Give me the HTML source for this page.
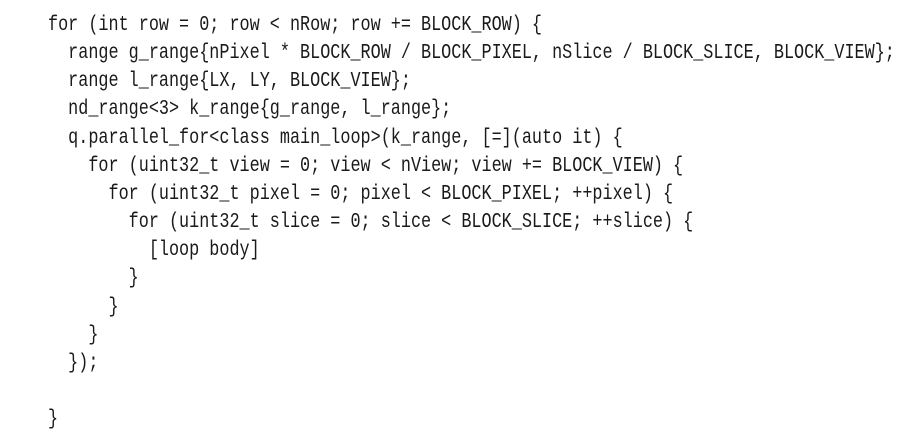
<!DOCTYPE html>
<html><head><meta charset="utf-8"><style>
html,body{margin:0;padding:0;background:#fff;width:922px;height:440px;overflow:hidden}
pre{position:absolute;left:48px;top:12px;margin:0;font-family:"Liberation Mono",monospace;font-size:21px;line-height:28.15px;color:#1a1a1a;transform:scaleX(0.80);transform-origin:0 0;white-space:pre}
</style></head><body>
<pre>for (int row = 0; row &lt; nRow; row += BLOCK_ROW) {
  range g_range{nPixel * BLOCK_ROW / BLOCK_PIXEL, nSlice / BLOCK_SLICE, BLOCK_VIEW};
  range l_range{LX, LY, BLOCK_VIEW};
  nd_range&lt;3&gt; k_range{g_range, l_range};
  q.parallel_for&lt;class main_loop&gt;(k_range, [=](auto it) {
    for (uint32_t view = 0; view &lt; nView; view += BLOCK_VIEW) {
      for (uint32_t pixel = 0; pixel &lt; BLOCK_PIXEL; ++pixel) {
        for (uint32_t slice = 0; slice &lt; BLOCK_SLICE; ++slice) {
          [loop body]
        }
      }
    }
  });

}</pre>
</body></html>
